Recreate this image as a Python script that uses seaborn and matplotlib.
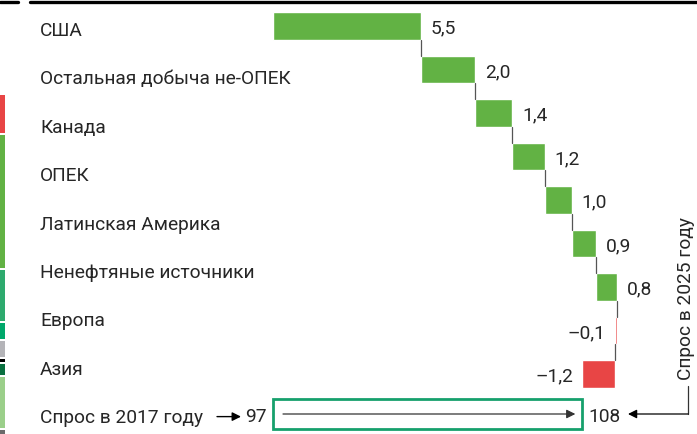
import matplotlib
matplotlib.use('Agg')
import matplotlib.pyplot as plt
import seaborn as sns
import pandas as pd
import numpy as np
from matplotlib.patches import Rectangle
from matplotlib.lines import Line2D

# данные
row_labels = ['США', 'Остальная добыча не-ОПЕК', 'Канада', 'ОПЕК', 'Латинская Америка',
              'Ненефтяные источники', 'Европа', 'Азия']
changes = [5.5, 2.0, 1.4, 1.2, 1.0, 0.9, 0.8, -0.1, -1.2]
value_labels = ['5,5', '2,0', '1,4', '1,2', '1,0', '0,9', '0,8', '\u20130,1', '\u20131,2']
start_total = 97
end_total = 108
start_label = 'Спрос в 2017 году'
end_label = 'Спрос в 2025 году'

GREEN = '#62b244'
RED = '#e84545'
BOX = '#16a06c'

# накопленные значения
ends = start_total + np.cumsum(changes)
starts = ends - np.array(changes)
df = pd.DataFrame({
    'step': [str(i) for i in range(len(changes))],
    'end': ends,
    'color': [GREEN if c > 0 else RED for c in changes],
})

sns.set_theme(style='white')
plt.rcParams['font.family'] = ['Roboto', 'DejaVu Sans']
FS = 13.8

W, H = 697, 434
fig = plt.figure(figsize=(W / 100, H / 100), dpi=100)
ax = fig.add_axes([0, 0, 1, 1])

sns.barplot(data=df, x='end', y='step', hue='step', palette=list(df['color']),
            width=0.64, legend=False, ax=ax, orient='h', saturation=1)

# бары водопада: сдвигаем начало каждого бара
for p in ax.patches:
    i = int(round(p.get_y() + p.get_height() / 2))
    p.set_x(min(starts[i], ends[i]))
    p.set_width(abs(changes[i]))

# масштаб в пикселях
ppu = 26.9
x0 = start_total - 273 / ppu
ax.set_xlim(x0, x0 + W / ppu)
row_px = 43.5
y_top = 26
ax.set_ylim((H - y_top) / row_px, -y_top / row_px)
ax.set_axis_off()

# соединительные линии
for i in range(len(changes) - 1):
    ax.plot([ends[i], ends[i]], [i + 0.32, i + 0.68], color='#555555', lw=0.9)

# подписи значений
for i, (c, lab) in enumerate(zip(changes, value_labels)):
    if c > 0:
        ax.text(ends[i] + 10 / ppu, i + 0.17, lab, ha='left', va='baseline', fontsize=FS)
    else:
        ax.text(ends[i] - 9 / ppu, i + 0.17, lab, ha='right', va='baseline', fontsize=FS)

# подписи строк слева
for i, lab in enumerate(row_labels + [start_label]):
    ax.text(40 / W, 1 - (36 + 48.4 * i) / H, lab, transform=ax.transAxes,
            ha='left', va='baseline', fontsize=FS)

# нижняя строка: 97 -> 108
tr = ax.get_yaxis_transform()
y_b = (414 - y_top) / row_px
y_base = (422 - y_top) / row_px
ax.annotate('', xy=(241 / W, y_b + 0.06), xytext=(217 / W, y_b + 0.06), xycoords=tr,
            arrowprops=dict(arrowstyle='-|>', color='black', lw=1, mutation_scale=13,
                            shrinkA=0, shrinkB=0))
ax.text(start_total - 28 / ppu, y_base, str(start_total), ha='left', va='baseline', fontsize=FS)

ax.add_patch(Rectangle((start_total, (399 - y_top) / row_px), ends[-1] - start_total,
                       30 / row_px, fill=False, edgecolor=BOX, lw=2))
ax.annotate('', xy=(ends[-1] - 7 / ppu, y_b), xytext=(start_total + 10 / ppu, y_b),
            arrowprops=dict(arrowstyle='-|>', color='#333333', lw=0.9, mutation_scale=13,
                            shrinkA=0, shrinkB=0))
ax.text(ends[-1] + 6 / ppu, y_base, str(end_total), ha='left', va='baseline', fontsize=FS)

# правая скобка
ax.plot([688 / W, 688 / W], [(386 - y_top) / row_px, y_b], color='#333333', lw=0.9,
        transform=tr)
ax.annotate('', xy=(628 / W, y_b), xytext=(688 / W, y_b), xycoords=tr,
            arrowprops=dict(arrowstyle='-|>', color='black', lw=0.9, mutation_scale=13,
                            shrinkA=0, shrinkB=0))
ax.text(686 / W, 1 - 299 / H, end_label, transform=ax.transAxes, rotation=90,
        ha='center', va='center', fontsize=FS)

# верхняя линия
fig.add_artist(Line2D([0, 18 / W], [1 - 2 / H] * 2, lw=2.4, color='black',
                      transform=fig.transFigure))
fig.add_artist(Line2D([29.5 / W, 1], [1 - 2 / H] * 2, lw=2.4, color='black',
                      transform=fig.transFigure))

# цветная полоса слева (фрагмент соседней диаграммы)
strips = [(95, 133, '#e84545'), (135, 268, '#62b244'), (270, 321, '#2eaa6e'),
          (323, 339, '#00a86b'), (341, 357, '#b4b4b8'), (359, 362, '#000000'),
          (364, 375, '#0a7040'), (377, 428, '#9bcf8a'), (430, 434, '#6a6a6a')]
for top, bot, col in strips:
    fig.add_artist(Rectangle((0, 1 - bot / H), 5 / W, (bot - top) / H, color=col,
                             transform=fig.transFigure, lw=0))

fig.savefig('out.png', dpi=100)
